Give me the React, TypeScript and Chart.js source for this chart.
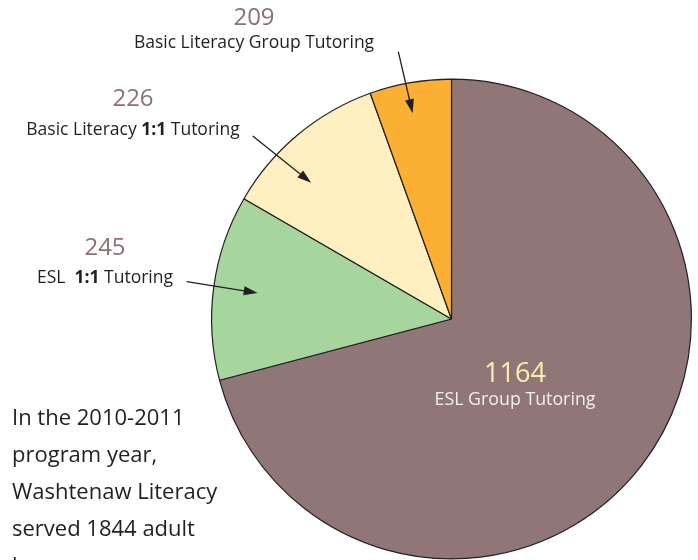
import React, { useEffect, useRef } from "react";
import { Chart, registerables } from "chart.js";

Chart.register(...registerables);

// ---- data ----
const categories = [
  "ESL Group Tutoring",
  "ESL 1:1 Tutoring",
  "Basic Literacy 1:1 Tutoring",
  "Basic Literacy Group Tutoring",
];
// numbers printed on the chart
const learnerCounts = [1164, 245, 226, 209];
// slice sizes as drawn in the reference (degrees of the circle)
const sliceSizes = [255.2, 44.9, 40.1, 19.8];
const sliceColors = ["#917678", "#a6d59e", "#fef0c0", "#fbb034"];
// label text runs (bold flag marks the bold "1:1")
const labelRuns: { t: string; b?: boolean }[][] = [
  [{ t: "ESL Group Tutoring" }],
  [{ t: "ESL  " }, { t: "1:1", b: true }, { t: " Tutoring" }],
  [{ t: "Basic Literacy " }, { t: "1:1", b: true }, { t: " Tutoring" }],
  [{ t: "Basic Literacy Group Tutoring" }],
];
const noteLines = [
  "In the 2010-2011",
  "program year,",
  "Washtenaw Literacy",
  "served 1844 adult",
  "learners.",
];

// ---- layout / style ----
const FONT = "'Open Sans', 'Noto Sans', sans-serif";
const INK = "#231f20";
const NUM_COLOR = "#8d7173";
// label anchor positions (centre x, number baseline, name baseline)
const labelPos = [
  { x: 515, ny: 382, ty: 405, nSize: 27, tSize: 17.8, nColor: "#fcedaa", tColor: "#f3eeee" },
  { x: 105, ny: 255, ty: 283, nSize: 24, tSize: 17.5, nColor: NUM_COLOR, tColor: INK },
  { x: 133, ny: 106, ty: 135, nSize: 24, tSize: 17.5, nColor: NUM_COLOR, tColor: INK },
  { x: 254, ny: 25, ty: 48, nSize: 24, tSize: 17.5, nColor: NUM_COLOR, tColor: INK },
];
// arrows: start point near label, tip at fraction of slice angle & radius
const arrows: (null | { sx: number; sy: number; af: number; rf: number })[] = [
  null,
  { sx: 186.7, sy: 281.7, af: 0.5, rf: 0.815 },
  { sx: 252.7, sy: 136, af: 0.35, rf: 0.815 },
  { sx: 398.3, sy: 51.7, af: 0.46, rf: 0.873 },
];

function drawRuns(
  ctx: CanvasRenderingContext2D,
  runs: { t: string; b?: boolean }[],
  cx: number,
  y: number,
  size: number,
  color: string
) {
  const fonts = runs.map((r) => `${r.b ? "bold " : ""}${size}px ${FONT}`);
  let total = 0;
  const widths = runs.map((r, i) => {
    ctx.font = fonts[i];
    const w = ctx.measureText(r.t).width;
    total += w;
    return w;
  });
  let x = cx - total / 2;
  ctx.fillStyle = color;
  ctx.textAlign = "left";
  ctx.textBaseline = "alphabetic";
  runs.forEach((r, i) => {
    ctx.font = fonts[i];
    ctx.fillText(r.t, x, y);
    x += widths[i];
  });
}

const annotations = {
  id: "annotations",
  afterDraw(chart: any) {
    const ctx: CanvasRenderingContext2D = chart.ctx;
    const meta = chart.getDatasetMeta(0);
    ctx.save();
    meta.data.forEach((arc: any, i: number) => {
      const p = arc.getProps(["x", "y", "startAngle", "endAngle", "outerRadius"], true);
      const a = arrows[i];
      if (a) {
        const ang = p.startAngle + (p.endAngle - p.startAngle) * a.af;
        const tx = p.x + Math.cos(ang) * p.outerRadius * a.rf;
        const ty = p.y + Math.sin(ang) * p.outerRadius * a.rf;
        const dx = tx - a.sx;
        const dy = ty - a.sy;
        const len = Math.hypot(dx, dy);
        const ux = dx / len;
        const uy = dy / len;
        const headL = 14;
        const headW = 4.5;
        const bx = tx - ux * headL;
        const by = ty - uy * headL;
        ctx.strokeStyle = INK;
        ctx.lineWidth = 1.3;
        ctx.beginPath();
        ctx.moveTo(a.sx, a.sy);
        ctx.lineTo(bx + ux * 2, by + uy * 2);
        ctx.stroke();
        ctx.fillStyle = INK;
        ctx.beginPath();
        ctx.moveTo(tx, ty);
        ctx.lineTo(bx - uy * headW, by + ux * headW);
        ctx.lineTo(bx + uy * headW, by - ux * headW);
        ctx.closePath();
        ctx.fill();
      }
      const lp = labelPos[i];
      drawRuns(ctx, [{ t: String(learnerCounts[i]) }], lp.x, lp.ny, lp.nSize, lp.nColor);
      drawRuns(ctx, labelRuns[i], lp.x, lp.ty, lp.tSize, lp.tColor);
    });
    // note text
    ctx.font = `22px ${FONT}`;
    ctx.fillStyle = INK;
    ctx.textAlign = "left";
    ctx.textBaseline = "alphabetic";
    noteLines.forEach((line, k) => {
      ctx.fillText(line, 12, 425 + k * 37);
    });
    ctx.restore();
  },
};

export default function App() {
  const ref = useRef<HTMLCanvasElement>(null);
  useEffect(() => {
    if (!ref.current) return;
    const chart = new Chart(ref.current, {
      type: "pie",
      data: {
        labels: categories,
        datasets: [
          {
            data: sliceSizes,
            backgroundColor: sliceColors,
            borderColor: INK,
            borderWidth: 1.2,
          },
        ],
      },
      options: {
        responsive: false,
        animation: false,
        events: [],
        layout: { padding: { left: 211, top: 78.5, right: 6, bottom: 0.5 } },
        plugins: {
          legend: { display: false },
          tooltip: { enabled: false },
        },
      },
      plugins: [annotations],
    });
    return () => chart.destroy();
  }, []);
  return (
    <div style={{ position: "fixed", left: 0, top: 0, width: 698, height: 560, background: "#fff", overflow: "hidden" }}>
      <canvas ref={ref} width={698} height={560} style={{ display: "block" }} />
    </div>
  );
}
